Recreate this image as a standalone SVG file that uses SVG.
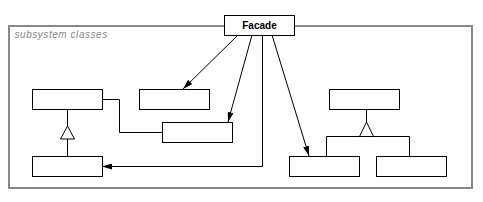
<svg xmlns="http://www.w3.org/2000/svg" width="483" height="202" viewBox="0 0 483 202">
<style>
.box{fill:#fff;stroke:#000;stroke-width:1}
.ln{fill:none;stroke:#000;stroke-width:1}
.tri{fill:#fff;stroke:#000;stroke-width:1}
.lbl{font-family:"Liberation Sans",Arial,sans-serif;font-size:10px;font-weight:bold;fill:#000}
.pkg{font-family:"Liberation Sans",Arial,sans-serif;font-size:10px;font-style:italic;fill:#888;letter-spacing:0.55px}
</style>
<defs>
<marker id="ah" viewBox="0 0 10 6" refX="10" refY="3" markerWidth="10" markerHeight="6" markerUnits="userSpaceOnUse" orient="auto">
<path d="M0,0 L10,3 L0,6 Z" fill="#000"/>
</marker>
</defs>
<rect width="483" height="202" fill="#fff"/>
<g id="subsystem">
<rect x="9" y="26" width="463" height="162" fill="none" stroke="#888" stroke-width="2"/>
<text class="pkg" x="14.5" y="37.5">subsystem classes</text>
</g>
<g id="connectors">
<line class="ln" x1="238" y1="35" x2="183" y2="89" marker-end="url(#ah)"/>
<line class="ln" x1="252" y1="35" x2="228" y2="122" marker-end="url(#ah)"/>
<polyline class="ln" points="262.5,35 262.5,166.5 102,166.5" marker-end="url(#ah)"/>
<line class="ln" x1="272" y1="35" x2="309" y2="156" marker-end="url(#ah)"/>
<polyline class="ln" points="102,99.5 119.5,99.5 119.5,132.5 162,132.5"/>
<line class="ln" x1="67.5" y1="109" x2="67.5" y2="126"/>
<line class="ln" x1="67.5" y1="139" x2="67.5" y2="156"/>
<polygon class="tri" points="67.5,126 60.5,139 74.5,139"/>
<line class="ln" x1="366.5" y1="109" x2="366.5" y2="122"/>
<polyline class="ln" points="326.5,156 326.5,136.5 409.5,136.5 409.5,156"/>
<polygon class="tri" points="366.5,122 359.5,136.5 373.5,136.5"/>
</g>
<g id="facade">
<rect class="box" x="224.5" y="15.5" width="70" height="20"/>
<text class="lbl" x="259.5" y="28.5" text-anchor="middle">Facade</text>
</g>
<g id="classA"><rect class="box" x="32.5" y="89.5" width="70" height="20"/></g>
<g id="classB"><rect class="box" x="139.5" y="89.5" width="70" height="20"/></g>
<g id="classC"><rect class="box" x="162.5" y="122.5" width="70" height="20"/></g>
<g id="classD"><rect class="box" x="32.5" y="156.5" width="70" height="20"/></g>
<g id="classE"><rect class="box" x="329.5" y="89.5" width="70" height="20"/></g>
<g id="classF"><rect class="box" x="289.5" y="156.5" width="70" height="20"/></g>
<g id="classG"><rect class="box" x="376.5" y="156.5" width="70" height="20"/></g>
</svg>
